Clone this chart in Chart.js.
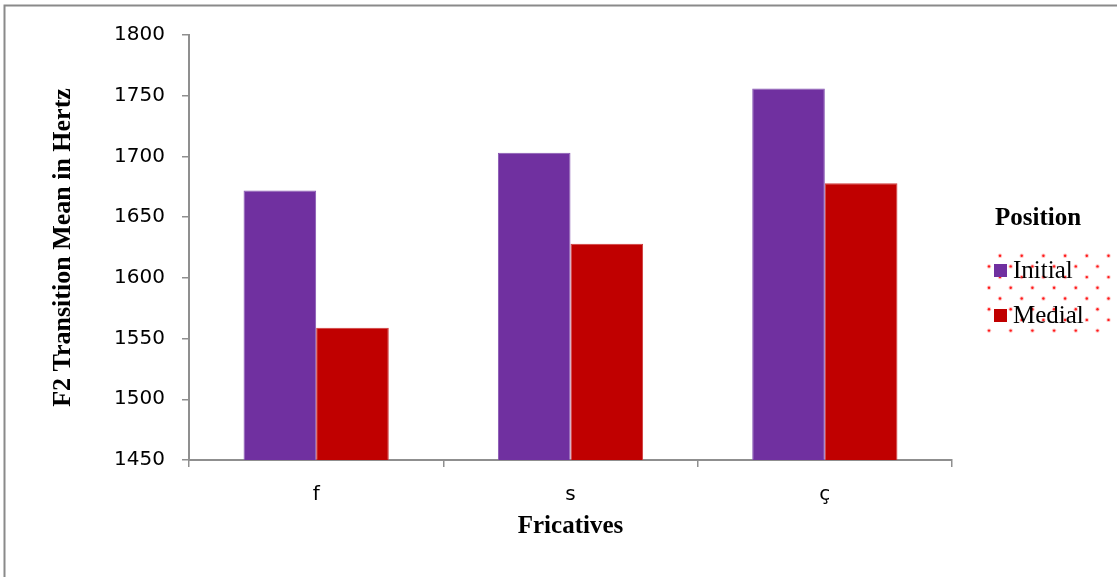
<!DOCTYPE html>
<html>
<head>
<meta charset="utf-8">
<script src="https://cdn.jsdelivr.net/npm/chart.js@4/dist/chart.umd.min.js"></script>
<style>
  html, body { margin: 0; padding: 0; background: #ffffff; }
  canvas { display: block; }
</style>
</head>
<body>
<canvas id="chart" width="1117" height="577"></canvas>
<script>
// F2 transition means (Hz) by fricative and word position
const categories = ['f', 's', 'ç'];
const initialValues = [1672, 1703, 1756];
const medialValues = [1559, 1628, 1678];
const seriesNames = ['Initial', 'Medial'];
const yTicks = { min: 1450, max: 1800, step: 50 };

const AXIS_GREY = '#8f8f8f';
const SERIF = "'Liberation Serif', 'Times New Roman', serif";
const SANS = "'DejaVu Sans', sans-serif";

// Outer frame of the figure (top and left edges)
const framePlugin = {
  id: 'frame',
  beforeDraw(chart) {
    const ctx = chart.ctx;
    ctx.save();
    ctx.fillStyle = '#ffffff';
    ctx.fillRect(0, 0, chart.width, chart.height);
    ctx.strokeStyle = '#8a8a8a';
    ctx.lineWidth = 2;
    ctx.beginPath();
    ctx.moveTo(4.5, chart.height);
    ctx.lineTo(4.5, 5.5);
    ctx.lineTo(chart.width, 5.5);
    ctx.stroke();
    ctx.restore();
  }
};

// Legend at the right: title, dotted fill behind the entries, colour keys
const legendPlugin = {
  id: 'sideLegend',
  afterDraw(chart) {
    const ctx = chart.ctx;
    ctx.save();
    ctx.fillStyle = '#000000';
    ctx.textBaseline = 'alphabetic';
    ctx.textAlign = 'left';
    ctx.font = 'bold 25px ' + SERIF;
    ctx.fillText('Position', 995, 225);

    // dotted pattern fill
    for (let r = 0; r < 8; r++) {
      const y = 255.7 + r * 10.7;
      const x0 = (r % 2 === 0) ? 1000 : 989;
      for (let x = x0; x < 1109; x += 21.7) {
        ctx.fillStyle = 'rgba(255,90,90,0.35)';
        ctx.beginPath(); ctx.arc(x, y, 2.2, 0, Math.PI * 2); ctx.fill();
        ctx.fillStyle = '#ff1a1a';
        ctx.beginPath(); ctx.arc(x, y, 1.2, 0, Math.PI * 2); ctx.fill();
      }
    }

    const rows = [264, 309];
    chart.data.datasets.forEach((ds, i) => {
      const top = rows[i];
      ctx.fillStyle = ds.backgroundColor;
      ctx.fillRect(994, top, 13, 13);
      ctx.fillStyle = '#000000';
      ctx.font = '25px ' + SERIF;
      ctx.fillText(ds.label, 1013, top + 14);
    });
    ctx.restore();
  }
};

new Chart(document.getElementById('chart'), {
  type: 'bar',
  data: {
    labels: categories,
    datasets: [
      {
        label: seriesNames[0],
        data: initialValues,
        backgroundColor: '#7030a0',
        borderColor: '#8757b3',
        borderWidth: 1,
        barPercentage: 1,
        categoryPercentage: 0.571
      },
      {
        label: seriesNames[1],
        data: medialValues,
        backgroundColor: '#c00000',
        borderColor: '#cf3a3a',
        borderWidth: 1,
        barPercentage: 1,
        categoryPercentage: 0.571
      }
    ]
  },
  options: {
    responsive: false,
    animation: false,
    devicePixelRatio: 1,
    layout: { padding: { left: 0, top: 35, right: 165, bottom: 0 } },
    plugins: {
      legend: { display: false },
      tooltip: { enabled: false }
    },
    scales: {
      x: {
        afterFit(scale) { scale.height = 117; },
        grid: {
          offset: true,
          drawOnChartArea: false,
          drawTicks: true,
          tickLength: 7,
          color: AXIS_GREY,
          lineWidth: 1.5
        },
        border: { display: true, color: AXIS_GREY, width: 2 },
        ticks: {
          color: '#000000',
          font: { family: SANS, size: 20 },
          padding: 16
        },
        title: {
          display: true,
          text: 'Fricatives',
          color: '#000000',
          font: { family: SERIF, size: 25, weight: 'bold' },
          padding: { top: 0, bottom: 35 }
        }
      },
      y: {
        min: yTicks.min,
        max: yTicks.max,
        afterFit(scale) { scale.width = 189; },
        grid: {
          drawOnChartArea: false,
          drawTicks: true,
          tickLength: 7,
          color: AXIS_GREY,
          lineWidth: 1.5
        },
        border: { display: true, color: AXIS_GREY, width: 2 },
        ticks: {
          stepSize: yTicks.step,
          color: '#000000',
          font: { family: SANS, size: 20 },
          padding: 17,
          callback: (value) => String(value)
        },
        title: {
          display: true,
          text: 'F2 Transition Mean in Hertz',
          color: '#000000',
          font: { family: SERIF, size: 26, weight: 'bold' },
          padding: { top: 48, bottom: 0 }
        }
      }
    }
  },
  plugins: [framePlugin, legendPlugin]
});
</script>
</body>
</html>
